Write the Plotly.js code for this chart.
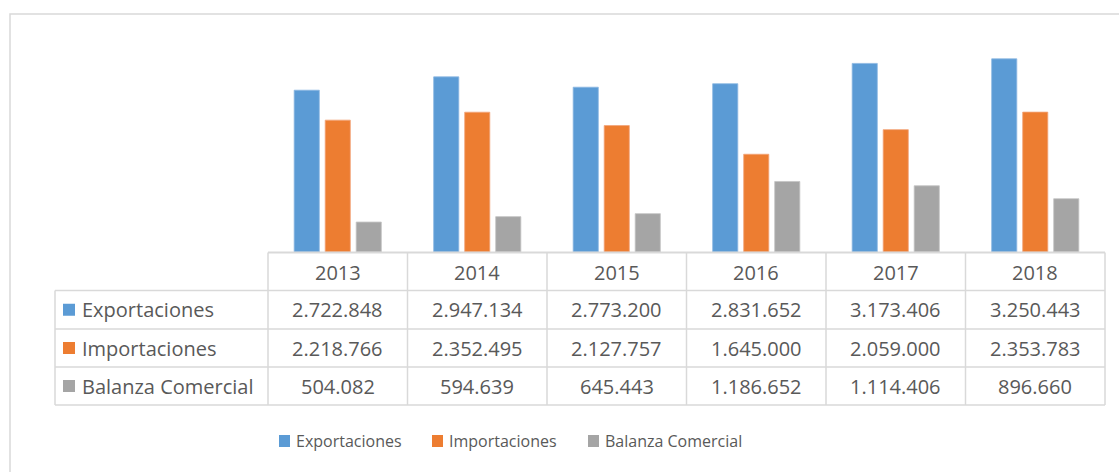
<!DOCTYPE html>
<html>
<head>
<meta charset="utf-8">
<script src="https://cdn.plot.ly/plotly-3.0.1.min.js"></script>
<style>html,body{margin:0;padding:0;background:#fff;}#chart{width:1119px;height:472px;}</style>
</head>
<body>
<div id="chart"></div>
<script>
const years = ["2013", "2014", "2015", "2016", "2017", "2018"];
const seriesNames = ["Exportaciones", "Importaciones", "Balanza Comercial"];
const exportaciones = [2722848, 2947134, 2773200, 2831652, 3173406, 3250443];
const importaciones = [2218766, 2352495, 2127757, 1645000, 2059000, 2353783];
const balanza = [504082, 594639, 645443, 1186652, 1114406, 896660];
const colors = ["#5b9bd5", "#ed7d31", "#a5a5a5"];
const edgeColors = ["#8cb8e2", "#f3a57a", "#c4c4c4"];

const W = 1119, H = 472;
const X = p => p / W;
const Y = p => 1 - p / H;
const series = [exportaciones, importaciones, balanza];
const fmt = n => n.toString().replace(/\B(?=(\d{3})+(?!\d))/g, ".");

const traces = series.map((vals, i) => ({
  type: "bar",
  name: seriesNames[i],
  x: years,
  y: vals,
  marker: {color: colors[i], line: {color: edgeColors[i], width: 0.8}},
  hoverinfo: "x+y+name"
}));

const lineColor = "#d9d9d9";
const textColor = "#595959";
const font = {family: "Open Sans, sans-serif", size: 20, color: textColor};

// table geometry (pixels)
const colX = [268, 407.5, 547, 686.5, 826, 965.5, 1105];
const rowY = [252.5, 290.5, 329, 367, 405];
const labelLeft = 55;

const shapes = [];
const annotations = [];

// outer chart border
shapes.push({type: "rect", xref: "paper", yref: "paper", x0: X(10), x1: X(1130), y0: Y(14), y1: Y(490),
  line: {color: lineColor, width: 1.5}, fillcolor: "rgba(0,0,0,0)", layer: "below"});

// horizontal table lines
shapes.push({type: "line", xref: "paper", yref: "paper", x0: X(colX[0]), x1: X(colX[6]), y0: Y(rowY[0]), y1: Y(rowY[0]), line: {color: lineColor, width: 2}});
for (let r = 1; r < rowY.length; r++) {
  shapes.push({type: "line", xref: "paper", yref: "paper", x0: X(labelLeft), x1: X(colX[6]), y0: Y(rowY[r]), y1: Y(rowY[r]), line: {color: lineColor, width: 1.5}});
}
// vertical table lines
shapes.push({type: "line", xref: "paper", yref: "paper", x0: X(labelLeft), x1: X(labelLeft), y0: Y(rowY[1]), y1: Y(rowY[4]), line: {color: lineColor, width: 1.5}});
colX.forEach(cx => {
  shapes.push({type: "line", xref: "paper", yref: "paper", x0: X(cx), x1: X(cx), y0: Y(rowY[0]), y1: Y(rowY[4]), line: {color: lineColor, width: 1.5}});
});

// header years
years.forEach((yr, j) => {
  annotations.push({xref: "paper", yref: "paper", x: X((colX[j] + colX[j + 1]) / 2), y: Y((rowY[0] + rowY[1]) / 2 + 0.5),
    text: yr, showarrow: false, font: font, xanchor: "center", yanchor: "middle"});
});

// rows
series.forEach((vals, i) => {
  const cy = (rowY[i + 1] + rowY[i + 2]) / 2;
  shapes.push({type: "rect", xref: "paper", yref: "paper", x0: X(63), x1: X(75), y0: Y(cy - 6), y1: Y(cy + 6),
    fillcolor: colors[i], line: {width: 0}});
  annotations.push({xref: "paper", yref: "paper", x: X(80), y: Y(cy), text: seriesNames[i], showarrow: false,
    font: font, xanchor: "left", yanchor: "middle"});
  vals.forEach((v, j) => {
    annotations.push({xref: "paper", yref: "paper", x: X((colX[j] + colX[j + 1]) / 2), y: Y(cy),
      text: fmt(v), showarrow: false, font: font, xanchor: "center", yanchor: "middle"});
  });
});

// custom legend
const legX = [279, 432, 588];
const legY = 441;
seriesNames.forEach((nm, i) => {
  shapes.push({type: "rect", xref: "paper", yref: "paper", x0: X(legX[i]), x1: X(legX[i] + 11), y0: Y(legY - 6), y1: Y(legY + 6),
    fillcolor: colors[i], line: {width: 0}});
  annotations.push({xref: "paper", yref: "paper", x: X(legX[i] + 15), y: Y(legY), text: nm, showarrow: false,
    font: {family: "Open Sans, sans-serif", size: 16, color: textColor}, xanchor: "left", yanchor: "middle"});
});

const layout = {
  width: W, height: H,
  margin: {l: 0, r: 0, t: 0, b: 0},
  paper_bgcolor: "#fff", plot_bgcolor: "rgba(0,0,0,0)",
  showlegend: false,
  barmode: "group",
  bargap: 0.333,
  bargroupgap: 0.19,
  xaxis: {type: "category", domain: [X(268), X(1105)], range: [-0.5, 5.5], showticklabels: false, showgrid: false, zeroline: false, showline: false, ticks: ""},
  yaxis: {domain: [Y(252), Y(44)], range: [0, 3500000], showticklabels: false, showgrid: false, zeroline: false, showline: false, ticks: ""},
  shapes: shapes,
  annotations: annotations
};

Plotly.newPlot("chart", traces, layout, {displayModeBar: false, responsive: false, staticPlot: false});
</script>
</body>
</html>
